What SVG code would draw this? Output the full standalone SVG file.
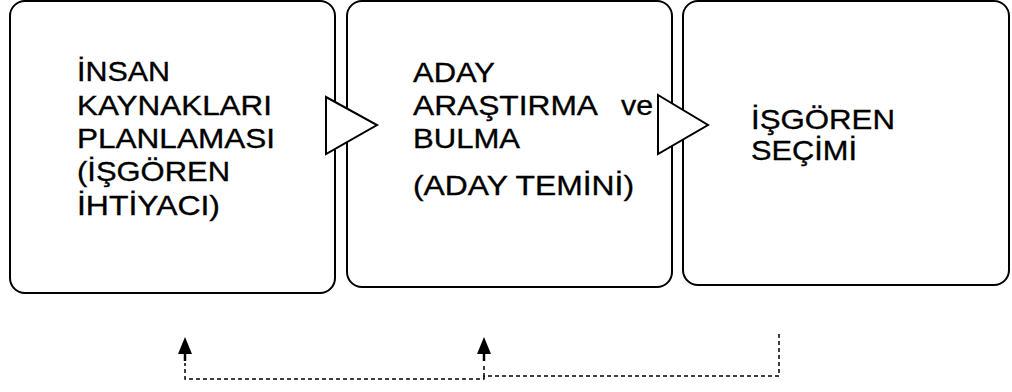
<svg xmlns="http://www.w3.org/2000/svg" width="1012" height="392" viewBox="0 0 1012 392">
<style>
.box{fill:#fff;stroke:#000;stroke-width:2}
.blk{fill:#fff;stroke:#000;stroke-width:2;stroke-linejoin:miter}
.t{font-family:"Liberation Sans",Arial,sans-serif;font-size:28px;fill:#000;stroke:#000;stroke-width:0.35}
.dash{fill:none;stroke:#000;stroke-width:1.5;stroke-dasharray:4 3}
.stem{stroke:#000;stroke-width:2.5}
</style>
<rect width="1012" height="392" fill="#fff"/>
<g id="node1">
<rect class="box" x="10" y="1" width="325" height="292" rx="15"/>
<text class="t" x="77" y="81" textLength="93" lengthAdjust="spacingAndGlyphs">İNSAN</text>
<text class="t" x="77" y="114.5" textLength="195" lengthAdjust="spacingAndGlyphs">KAYNAKLARI</text>
<text class="t" x="77" y="148" textLength="198" lengthAdjust="spacingAndGlyphs">PLANLAMASI</text>
<text class="t" x="77" y="181" textLength="153" lengthAdjust="spacingAndGlyphs">(İŞGÖREN</text>
<text class="t" x="77" y="214.5" textLength="143" lengthAdjust="spacingAndGlyphs">İHTİYACI)</text>
</g>
<g id="node2">
<rect class="box" x="347" y="1" width="325" height="286" rx="15"/>
<text class="t" x="413" y="81.5" textLength="82" lengthAdjust="spacingAndGlyphs">ADAY</text>
<text class="t" x="413" y="114.5" textLength="185" lengthAdjust="spacingAndGlyphs">ARAŞTIRMA</text>
<text class="t" x="621" y="114.5" textLength="32" lengthAdjust="spacingAndGlyphs">ve</text>
<text class="t" x="413" y="147.5" textLength="107" lengthAdjust="spacingAndGlyphs">BULMA</text>
<text class="t" x="413" y="194.5" textLength="221" lengthAdjust="spacingAndGlyphs">(ADAY TEMİNİ)</text>
</g>
<g id="node3">
<rect class="box" x="683" y="1" width="326" height="284" rx="15"/>
<text class="t" x="751" y="128.5" textLength="144" lengthAdjust="spacingAndGlyphs">İŞGÖREN</text>
<text class="t" x="751" y="159.5" textLength="106" lengthAdjust="spacingAndGlyphs">SEÇİMİ</text>
</g>
<g id="connectors">
<polygon class="blk" points="326,97 377,125 326,154"/>
<polygon class="blk" points="658,95 708,125 658,154"/>
<path class="dash" d="M779,334 V376 H484 V366"/>
<path class="dash" d="M484,376 V379 H185 V363"/>
<polygon points="185,337 178,354 192,354" fill="#000"/>
<polygon points="484,337 477,354 491,354" fill="#000"/>
<line class="stem" x1="185" y1="353" x2="185" y2="361"/>
<line class="stem" x1="484" y1="353" x2="484" y2="361"/>
</g>
</svg>
